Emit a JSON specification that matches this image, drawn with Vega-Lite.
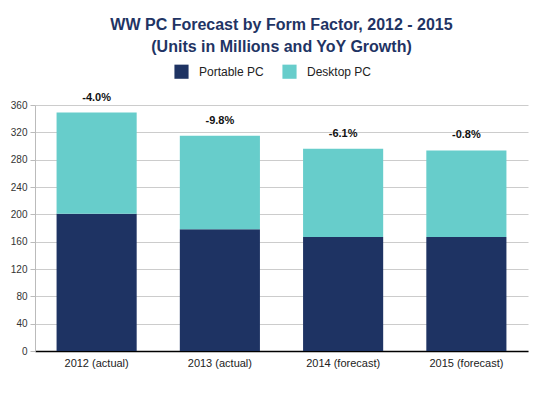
{
  "$schema": "https://vega.github.io/schema/vega-lite/v6.json",
  "autosize": {"type": "none"},
  "padding": {"left": 35, "top": 105, "right": 21, "bottom": 47},
  "width": 493,
  "height": 246,
  "background": "white",
  "title": {
    "text": ["WW PC Forecast by Form Factor, 2012 - 2015", "(Units in Millions and YoY Growth)"],
    "font": "Liberation Sans",
    "fontSize": 16,
    "fontWeight": "bold",
    "color": "#1f3464",
    "anchor": "middle",
    "frame": "group",
    "offset": 9,
    "lineHeight": 22
  },
  "datasets": {
    "units": [
      {"year": "2012 (actual)", "type": "Portable PC", "order": 1, "value": 201},
      {"year": "2012 (actual)", "type": "Desktop PC", "order": 2, "value": 148},
      {"year": "2013 (actual)", "type": "Portable PC", "order": 1, "value": 178},
      {"year": "2013 (actual)", "type": "Desktop PC", "order": 2, "value": 137},
      {"year": "2014 (forecast)", "type": "Portable PC", "order": 1, "value": 167},
      {"year": "2014 (forecast)", "type": "Desktop PC", "order": 2, "value": 129},
      {"year": "2015 (forecast)", "type": "Portable PC", "order": 1, "value": 167},
      {"year": "2015 (forecast)", "type": "Desktop PC", "order": 2, "value": 126.5}
    ],
    "growth": [
      {"year": "2012 (actual)", "total": 349, "label": "-4.0%"},
      {"year": "2013 (actual)", "total": 315, "label": "-9.8%"},
      {"year": "2014 (forecast)", "total": 296, "label": "-6.1%"},
      {"year": "2015 (forecast)", "total": 293.5, "label": "-0.8%"}
    ]
  },
  "config": {
    "view": {"stroke": null},
    "font": "Liberation Sans"
  },
  "encoding": {
    "x": {
      "field": "year",
      "type": "nominal",
      "sort": null,
      "title": null,
      "scale": {"paddingInner": 0.35, "paddingOuter": 0.175},
      "axis": {
        "labelAngle": 0,
        "labelFontSize": 11,
        "labelColor": "#222222",
        "labelFont": "Liberation Sans",
        "labelPadding": 6,
        "ticks": false,
        "domainColor": "#000000",
        "domainWidth": 1.5
      }
    }
  },
  "layer": [
    {
      "data": {"name": "units"},
      "mark": {"type": "bar"},
      "encoding": {
        "y": {
          "field": "value",
          "type": "quantitative",
          "stack": "zero",
          "title": null,
          "scale": {"domain": [0, 360], "nice": false, "zero": true},
          "axis": {
            "values": [0, 40, 80, 120, 160, 200, 240, 280, 320, 360],
            "labelOverlap": false,
            "labelFontSize": 10,
            "labelColor": "#333333",
            "labelFont": "Liberation Sans",
            "gridColor": "#cccccc",
            "tickColor": "#bbbbbb",
            "tickSize": 5,
            "domainColor": "#bbbbbb",
            "labelPadding": 3
          }
        },
        "color": {
          "field": "type",
          "type": "nominal",
          "scale": {"domain": ["Portable PC", "Desktop PC"], "range": ["#1e3363", "#67cdcb"]},
          "legend": {
            "title": null,
            "orient": "none",
            "direction": "horizontal",
            "legendX": 139,
            "legendY": -41,
            "symbolType": "square",
            "symbolSize": 200,
            "symbolStrokeWidth": 0,
            "symbolOpacity": 1,
            "labelFontSize": 12,
            "labelColor": "#222222",
            "labelFont": "Liberation Sans",
            "labelOffset": 10,
            "columnPadding": 18
          }
        },
        "order": {"field": "order", "type": "quantitative"}
      }
    },
    {
      "data": {"name": "growth"},
      "mark": {"type": "text", "fontWeight": "bold", "fontSize": 11, "color": "#111111", "dy": -10, "baseline": "bottom"},
      "encoding": {
        "y": {
          "field": "total",
          "type": "quantitative",
          "title": null,
          "axis": {
            "values": [0, 40, 80, 120, 160, 200, 240, 280, 320, 360],
            "labelOverlap": false,
            "labelFontSize": 10,
            "labelColor": "#333333",
            "labelFont": "Liberation Sans",
            "gridColor": "#cccccc",
            "tickColor": "#bbbbbb",
            "tickSize": 5,
            "domainColor": "#bbbbbb",
            "labelPadding": 3
          }
        },
        "text": {"field": "label", "type": "nominal"}
      }
    }
  ]
}
